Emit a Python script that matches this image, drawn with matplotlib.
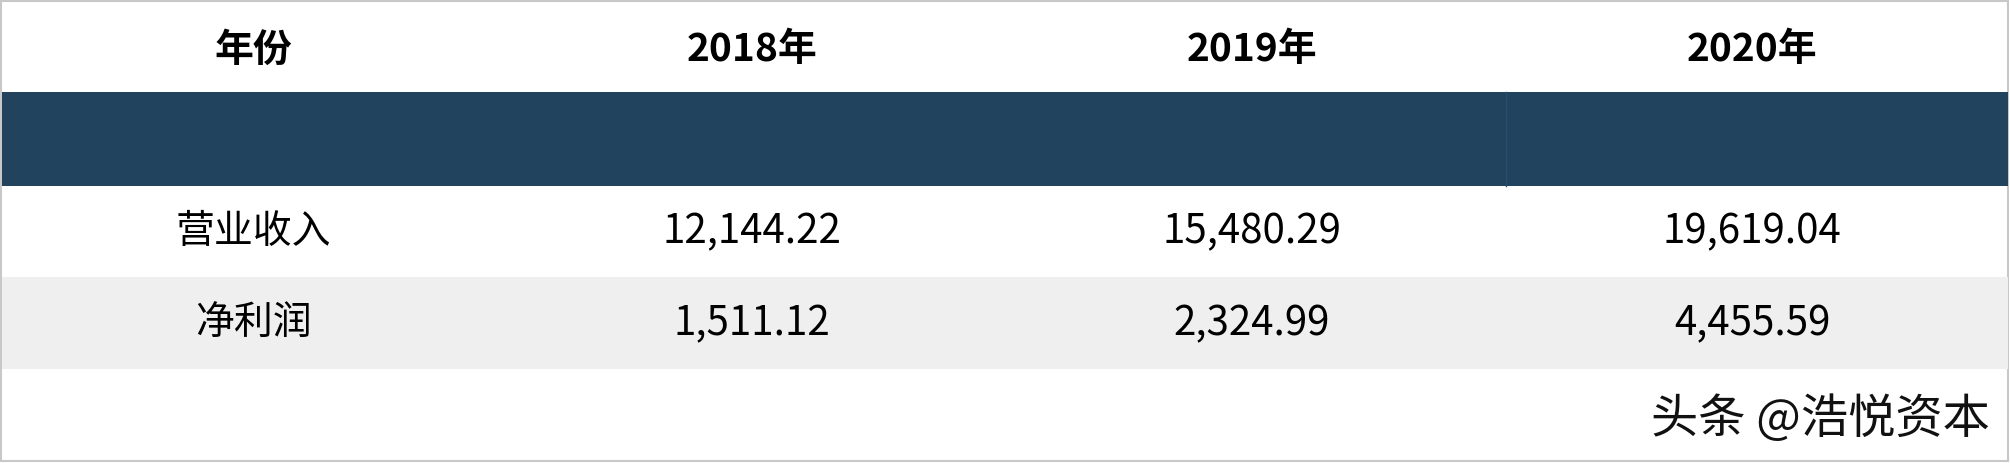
import matplotlib
matplotlib.use("Agg")
import matplotlib.pyplot as plt
from matplotlib.patches import Rectangle

plt.rcParams['font.family'] = ['Noto Sans CJK SC', 'DejaVu Sans']

header = ["年份", "2018年", "2019年", "2020年"]
row_labels = ["营业收入", "净利润"]
revenue = ["12,144.22", "15,480.29", "19,619.04"]
profit = ["1,511.12", "2,324.99", "4,455.59"]

W, H = 2010, 463
fig = plt.figure(figsize=(W/100, H/100), dpi=100)
ax = fig.add_axes([0, 0, 1, 1])
ax.set_xlim(0, W); ax.set_ylim(H, 0); ax.axis('off')

col_x = [253, 752, 1252, 1752]
ax.add_patch(Rectangle((1, 1), W-3, H-3, fill=False, ec='#c8c8c8', lw=1.5))
ax.add_patch(Rectangle((2, 92), W-4, 94, color='#21435d', lw=0))
ax.plot([1506, 1506], [92, 186], color='#2b4f6a', lw=1)
ax.add_patch(Rectangle((2, 277), W-4, 92, color='#efefef', lw=0))

for x, t in zip(col_x, header):
    ax.text(x, 50, t, ha='center', va='center', fontsize=28, fontweight='bold', color='black')
rows = [(row_labels[0], revenue, 232), (row_labels[1], profit, 324)]
for lab, vals, y in rows:
    ax.text(col_x[0], y, lab, ha='center', va='center', fontsize=28, color='black')
    for x, v in zip(col_x[1:], vals):
        ax.text(x, y, v, ha='center', va='center', fontsize=29, color='black')

ax.text(1990, 420, "头条 @浩悦资本", ha='right', va='center', fontsize=34, color='#111111')

fig.savefig("out.png", dpi=100)
